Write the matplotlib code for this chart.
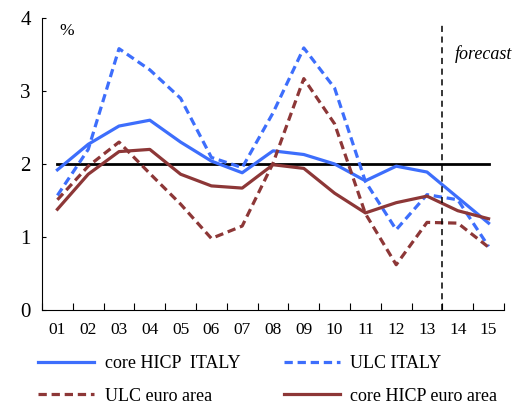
import matplotlib.pyplot as plt

plt.rcParams['font.family'] = ['Liberation Serif', 'DejaVu Serif']

# years 2001-2015 (2014-15 forecast)
years = ["01", "02", "03", "04", "05", "06", "07", "08", "09", "10", "11", "12", "13", "14", "15"]
core_hicp_italy = [1.92, 2.27, 2.52, 2.60, 2.30, 2.04, 1.88, 2.18, 2.13, 2.00, 1.77, 1.97, 1.89, 1.54, 1.19]
ulc_italy = [1.57, 2.20, 3.58, 3.29, 2.90, 2.09, 1.95, 2.70, 3.59, 3.04, 1.76, 1.10, 1.58, 1.51, 0.87]
ulc_euro = [1.51, 1.97, 2.30, 1.87, 1.45, 0.98, 1.15, 2.01, 3.17, 2.55, 1.32, 0.62, 1.20, 1.19, 0.86]
core_hicp_euro = [1.38, 1.86, 2.17, 2.20, 1.86, 1.70, 1.67, 1.99, 1.94, 1.60, 1.33, 1.47, 1.56, 1.36, 1.25]
target = 2.0

blue = "#3d6efc"
red = "#8d3737"
dash = (0, (2.6, 1.5))
x = list(range(len(years)))

fig = plt.figure(figsize=(5.15, 4.03), dpi=100)
ax = fig.add_axes([0.0816, 0.2308, 0.897, 0.7245])

ax.plot(x, [target] * len(x), color="black", lw=2.0, zorder=1)
l1, = ax.plot(x, core_hicp_italy, color=blue, lw=2.3, label="core HICP  ITALY")
l2, = ax.plot(x, ulc_italy, color=blue, lw=2.3, ls=dash, label="ULC ITALY")
l3, = ax.plot(x, ulc_euro, color=red, lw=2.3, ls=dash, label="ULC euro area")
l4, = ax.plot(x, core_hicp_euro, color=red, lw=2.3, label="core HICP euro area")

# forecast separator
ax.plot([12.5, 12.5], [0, 3.9], color="black", lw=1.1, ls=(0, (4, 3)))
ax.text(12.9, 3.5, "forecast", fontsize=13, style="italic", va="center")
ax.text(0.05, 3.82, "%", fontsize=12.5, va="center")

ax.set_xlim(-0.5, 14.5)
ax.set_ylim(0, 4)
ax.set_yticks([0, 1, 2, 3, 4])
ax.tick_params(axis="y", direction="in", length=3, labelsize=15, pad=8)
ax.set_xticks([i - 0.5 for i in range(16)])
ax.set_xticklabels([])
ax.set_xticks(x, minor=True)
ax.set_xticklabels(years, minor=True)
ax.tick_params(axis="x", which="major", direction="in", length=5)
ax.tick_params(axis="x", which="minor", length=0, labelsize=12.5, pad=9)
for s in ["top", "right"]:
    ax.spines[s].set_visible(False)

fig.legend([l1, l3, l2, l4], [l1.get_label(), l3.get_label(), l2.get_label(), l4.get_label()],
           ncol=2, loc="upper left", bbox_to_anchor=(0.042, 0.159), frameon=False,
           fontsize=13, handlelength=3.1, handletextpad=0.6, columnspacing=2.4,
           labelspacing=0.85)

fig.savefig("out.png", dpi=100)
